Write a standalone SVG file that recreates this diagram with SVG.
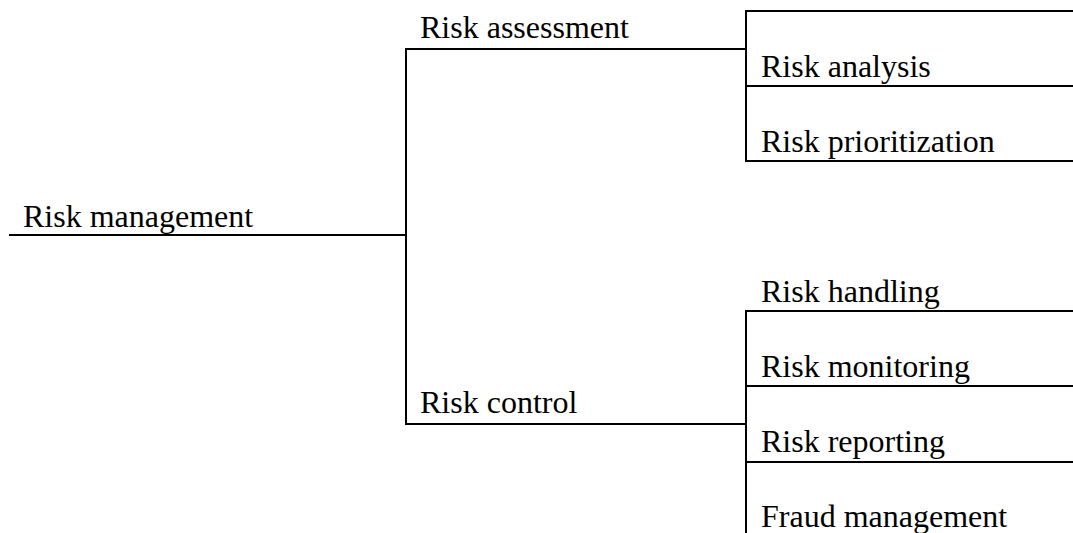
<svg xmlns="http://www.w3.org/2000/svg" width="1073" height="533" viewBox="0 0 1073 533">
<style>
.t{font-family:"Liberation Serif","Times New Roman",serif;font-size:32px;fill:#000}
.l{stroke:#000;stroke-width:2;fill:none;stroke-linecap:square}
</style>
<rect width="1073" height="533" fill="#fff"/>
<g id="connectors">
<path class="l" d="M10 235H406M406 49V424M406 49H746M406 424H746"/>
<path class="l" d="M746 11V161M746 11H1073M746 86H1073M746 161H1073"/>
<path class="l" d="M746 311V534M746 311H1073M746 386H1073M746 462H1073"/>
</g>
<g id="n-root"><text class="t" x="23" y="227">Risk management</text></g>
<g id="n-assessment"><text class="t" x="420" y="38">Risk assessment</text></g>
<g id="n-control"><text class="t" x="420" y="413">Risk control</text></g>
<g id="n-analysis"><text class="t" x="761" y="77">Risk analysis</text></g>
<g id="n-prioritization"><text class="t" x="761" y="152">Risk prioritization</text></g>
<g id="n-handling"><text class="t" x="761" y="302">Risk handling</text></g>
<g id="n-monitoring"><text class="t" x="761" y="377">Risk monitoring</text></g>
<g id="n-reporting"><text class="t" x="761" y="452">Risk reporting</text></g>
<g id="n-fraud"><text class="t" x="761" y="527">Fraud management</text></g>
</svg>
